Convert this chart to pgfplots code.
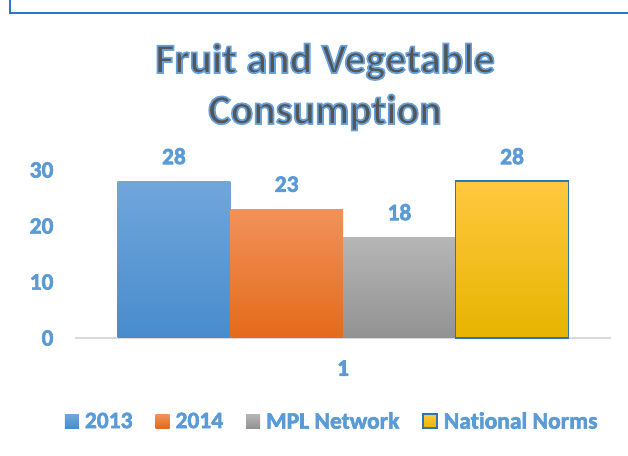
\documentclass[border=0pt]{standalone}
\usepackage{pgfplots}
\pgfplotsset{compat=1.18}
\usepackage{fontspec}
\setmainfont{Carlito}[Ligatures=NoCommon]
\definecolor{lblue}{RGB}{91,155,213}
\definecolor{frame}{RGB}{40,122,200}
\definecolor{ttl}{RGB}{85,85,85}
\definecolor{b1}{RGB}{112,166,219}
\definecolor{b2}{RGB}{72,140,205}
\definecolor{o1}{RGB}{241,146,90}
\definecolor{o2}{RGB}{228,106,26}
\definecolor{g1}{RGB}{182,182,182}
\definecolor{g2}{RGB}{146,146,146}
\definecolor{y1}{RGB}{255,200,64}
\definecolor{y2}{RGB}{230,180,0}
\definecolor{yb}{RGB}{46,117,182}
\newcommand{\lab}{\fontsize{23.5bp}{28bp}\selectfont\bfseries}
\newcommand{\outl}[1]{\special{pdf:literal direct 2 Tr 1.7 w 0.40 0.63 0.86 RG}#1\special{pdf:literal direct 0 Tr}}
\newcommand{\thk}[1]{\special{pdf:literal direct 2 Tr 0.6 w 0.357 0.608 0.835 RG}#1\special{pdf:literal direct 0 Tr}}
\begin{document}
\begin{tikzpicture}[x=1bp,y=1bp]
\path[use as bounding box] (0,0) rectangle (628,456);
\draw[frame, line width=2bp] (10,456) -- (10,443) -- (628,443);
\begin{axis}[
  at={(75bp,118bp)}, anchor=south west,
  scale only axis, width=536bp, height=168bp,
  xmin=0, xmax=2, ymin=0, ymax=30,
  ybar=0pt, bar width=112.7bp,
  axis x line*=bottom, axis y line*=left,
  x axis line style={draw=gray!30, line width=1.5bp, -},
  y axis line style={draw=none},
  major tick length=0pt,
  xtick={1}, ytick={0,10,20,30},
  xticklabel={\thk{\pgfmathprintnumber{\tick}}},
  yticklabel={\thk{\pgfmathprintnumber{\tick}}},
  /pgf/number format/assume math mode=true,
  tick label style={font=\lab, text=lblue},
  yticklabel style={xshift=-18bp},
  xticklabel style={yshift=-19bp},
  clip=false,
  nodes near coords={\thk{\pgfmathprintnumber{\pgfplotspointmeta}}},
  every node near coord/.append style={font=\lab, text=lblue, anchor=center, yshift=25bp},
  legend columns=4,
  legend style={draw=none, fill=none, at={(0.478,-0.495)}, anchor=center,
    font=\lab, text=lblue, nodes={inner sep=0pt},
    /tikz/every odd column/.append style={column sep=6bp},
    /tikz/every even column/.append style={column sep=23bp}},
  legend image code/.code={\path[#1] (0bp,-7bp) rectangle (14bp,7bp);},
]
\addplot[draw=none, top color=b1, bottom color=b2] coordinates {(1,28)};
\addlegendentry{\thk{2013}}
\addplot[draw=none, top color=o1, bottom color=o2] coordinates {(1,23)};
\addlegendentry{\thk{2014}}
\addplot[draw=none, top color=g1, bottom color=g2] coordinates {(1,18)};
\addlegendentry{\thk{MPL Network}}
\addplot[draw=yb, line width=1.5bp, top color=y1, bottom color=y2] coordinates {(1,28)};
\addlegendentry{\thk{National Norms}}
\end{axis}
\node[font=\fontsize{42bp}{51bp}\selectfont\bfseries, align=center, text=ttl] at (325,369)
  {\outl{Fruit and Vegetable}\\\outl{Consumption}};
\end{tikzpicture}
\end{document}
